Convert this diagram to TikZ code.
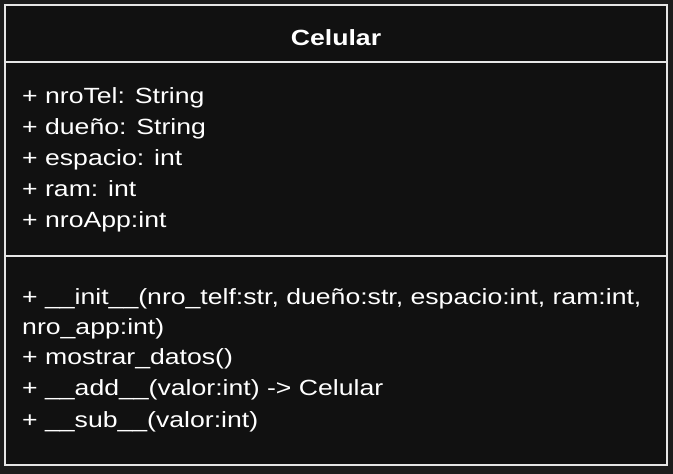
\documentclass[tikz,border=0pt]{standalone}
\usepackage{fontspec}
\setmainfont{Liberation Sans}[FakeStretch=1.21]
\definecolor{pagebg}{HTML}{1C1C1C}
\definecolor{boxbg}{HTML}{111111}
\definecolor{boxline}{HTML}{E6E6E6}
\begin{document}
\begin{tikzpicture}[x=1pt, y=-1pt,
  member/.style = {anchor=base west, inner sep=0pt, text=white, font=\fontsize{22}{26}\selectfont},
  classname/.style = {anchor=base, inner sep=0pt, text=white, font=\fontsize{22}{26}\selectfont\bfseries},
  rule/.style = {draw=boxline, line width=1.6}]
% background and frame
\fill[pagebg] (0,0) rectangle (673,474);
\useasboundingbox (0,0) rectangle (673,474);
\fill[boxbg] (5,5) rectangle (667,465);
\draw[rule] (5,5) rectangle (667,465);
\draw[rule] (5,62) -- (667,62);
\draw[rule] (5,256) -- (667,256);
% name
\node[classname] (name) at (336,45) {Celular};
% attributes
\node[member] (nroTel) at (22,103) {+ nroTel: String};
\node[member] (duenio) at (22,134) {+ dueño: String};
\node[member] (espacio) at (22,165) {+ espacio: int};
\node[member] (ram) at (22,196) {+ ram: int};
\node[member] (nroApp) at (22,227) {+ nroApp:int};
% methods
\node[member] (init) at (22,304) {+ \_\_init\_\_(nro\_telf:str, dueño:str, espacio:int, ram:int,};
\node[member] (initb) at (22,334) {nro\_app:int)};
\node[member] (mostrar) at (22,364) {+ mostrar\_datos()};
\node[member] (add) at (22,395) {+ \_\_add\_\_(valor:int) -> Celular};
\node[member] (sub) at (22,427) {+ \_\_sub\_\_(valor:int)};
\end{tikzpicture}
\end{document}
